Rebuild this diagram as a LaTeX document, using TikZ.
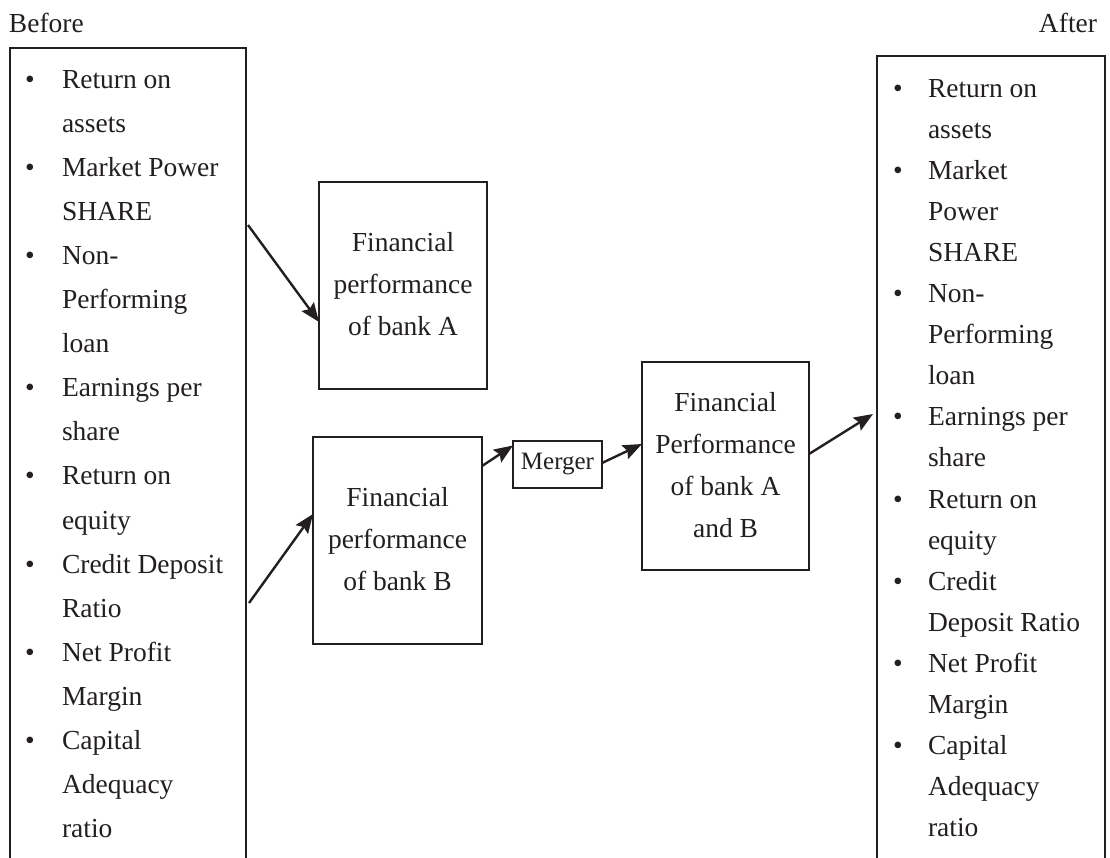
\documentclass[tikz,border=0pt]{standalone}
\usepackage{fontspec}
\setmainfont{Liberation Serif}
\usetikzlibrary{calc,arrows.meta}
\definecolor{ink}{HTML}{231F20}
\begin{document}
\begin{tikzpicture}[x=1pt,y=-1pt,
  txt/.style={text=ink, font=\fontsize{27.5}{42}\selectfont, inner sep=0pt, outer sep=0pt},
  box/.style={txt, draw=ink, line width=1.3pt, rectangle},
  arr/.style={draw=ink, line width=2.4pt, -{Stealth[length=19pt,width=15pt,inset=3pt]}},
  item/.style={txt, anchor=base west},
  bul/.style={txt, anchor=base}]
\useasboundingbox (0,0) rectangle (1110,857);

\node[item] (before) at (9,32) {Before};
\node[txt, anchor=base east] (after) at (1097,32) {After};

% side boxes (open at the bottom edge of the picture)
\node[box, minimum width=236pt, minimum height=832pt] (L) at (128,464) {};
\node[box, minimum width=228pt, minimum height=824pt] (R) at (991,468) {};

\foreach \t [count=\i from 0] in {Return on, assets, Market Power, SHARE, Non-, Performing, loan, Earnings per, share, Return on, equity, Credit Deposit, Ratio, Net Profit, Margin, Capital, Adequacy, ratio}
  \node[item] (l\i) at ({62},{88+44.1*\i}) {\t};
\foreach \i in {0,2,4,7,9,11,13,15}
  \node[bul] (lb\i) at ({30},{88+44.1*\i}) {\textbullet};

\foreach \t [count=\i from 0] in {Return on, assets, Market, Power, SHARE, Non-, Performing, loan, Earnings per, share, Return on, equity, Credit, Deposit Ratio, Net Profit, Margin, Capital, Adequacy, ratio}
  \node[item] (r\i) at ({928},{97+41.1*\i}) {\t};
\foreach \i in {0,2,5,8,10,12,14,16}
  \node[bul] (rb\i) at ({898},{97+41.1*\i}) {\textbullet};

% centre boxes
\node[box, minimum width=168pt, minimum height=207pt] (A) at (403,285.5)
  {\raisebox{-5pt}{\begin{tabular}{@{}c@{}}Financial\\performance\\of bank A\end{tabular}}};
\node[box, minimum width=169pt, minimum height=207pt] (B) at (397.5,540.5)
  {\begin{tabular}{@{}c@{}}Financial\\performance\\of bank B\end{tabular}};
\node[box, minimum width=89pt, minimum height=47pt, font=\fontsize{25}{30}\selectfont] (M) at (557.5,464.5) {Merger};
\node[box, minimum width=167pt, minimum height=208pt] (AB) at (725.5,466)
  {\raisebox{10pt}{\begin{tabular}{@{}c@{}}Financial\\Performance\\of bank A\\and B\end{tabular}}};

% connectors
\draw[arr] ($(L.east)+(2,-239)$) -- ($(A.west)+(0,36.5)$);
\draw[arr] ($(L.east)+(3,139)$) -- ($(B.west)+(0,-26.5)$);
\draw[arr] ($(B.east)+(0,-74.5)$) -- ($(M.west)+(0,-19)$);
\draw[arr] ($(M.east)+(0,-1.5)$) -- ($(AB.west)+(0,-22)$);
\draw[arr] ($(AB.east)+(0,-12)$) -- ($(R.west)+(-4,-54)$);
\end{tikzpicture}
\end{document}
